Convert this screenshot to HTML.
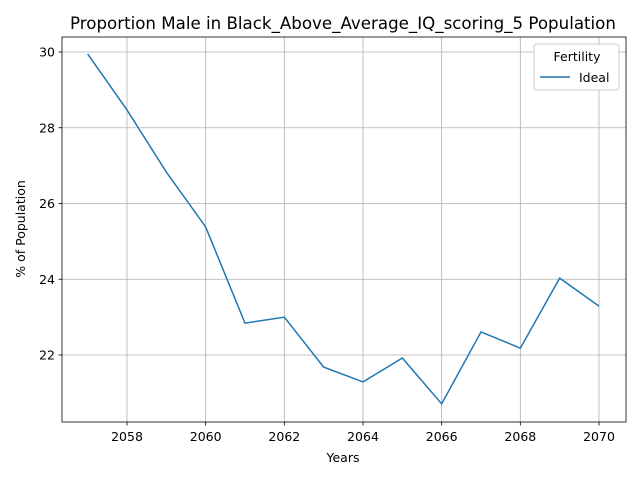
<!DOCTYPE html>
<html><head><meta charset="utf-8"><style>
body{margin:0;background:#fff;}
svg text{font-family:"DejaVu Sans","Liberation Sans",sans-serif;fill:#000;}
</style></head><body>
<svg id="chart" width="640" height="480" viewBox="0 0 640 480">
<rect width="640" height="480" fill="#fff"/>
<g id="grid"></g>
<g id="ticks"></g>
<path id="line" fill="none" stroke="#1f77b4" stroke-width="1.5"/>
<rect x="62" y="37" width="564" height="385" fill="none" stroke="#000" stroke-width="0.8"/>
<text x="343" y="29" font-size="16.67" text-anchor="middle">Proportion Male in Black_Above_Average_IQ_scoring_5 Population</text>
<text x="343" y="462" font-size="12.5" text-anchor="middle">Years</text>
<text transform="translate(25,229) rotate(-90)" font-size="12.5" text-anchor="middle">% of Population</text>
<g>
<rect x="534" y="44" width="85" height="46" rx="3" fill="#fff" stroke="#ccc" stroke-width="1"/>
<text x="577" y="61" font-size="12.5" text-anchor="middle">Fertility</text>
<line x1="540" y1="77" x2="570" y2="77" stroke="#1f77b4" stroke-width="1.5"/>
<text x="579" y="82" font-size="12.5">Ideal</text>
</g>
</svg>
<script>
const years=[2057,2058,2059,2060,2061,2062,2063,2064,2065,2066,2067,2068,2069,2070];
const values=[29.95,28.47,26.83,25.38,22.84,23.0,21.68,21.29,21.92,20.71,22.61,22.18,24.03,23.29];
const xTicks=[2058,2060,2062,2064,2066,2068,2070];
const yTicks=[22,24,26,28,30];
function xs(v){return 127+(v-2058)*(599-127)/12;}
function ys(v){return 355-(v-22)*(355-52)/8;}
const NS="http://www.w3.org/2000/svg";
const grid=document.getElementById('grid'),ticks=document.getElementById('ticks');
function mk(tag,attrs,parent){const e=document.createElementNS(NS,tag);for(const k in attrs)e.setAttribute(k,attrs[k]);parent.appendChild(e);return e;}
xTicks.forEach(t=>{const x=xs(t);
const g=mk('line',{x1:x,x2:x,y1:37,y2:422,stroke:'#b0b0b0','stroke-width':0.8},grid);


mk('line',{x1:x,x2:x,y1:422,y2:425.5,stroke:'#000','stroke-width':0.8},ticks);
const tx=mk('text',{x:x,y:441,'font-size':12.5,'text-anchor':'middle'},ticks);tx.textContent=t;

});
yTicks.forEach(t=>{const y=ys(t);
const g=mk('line',{x1:62,x2:626,y1:y,y2:y,stroke:'#b0b0b0','stroke-width':0.8},grid);


mk('line',{x1:58.5,x2:62,y1:y,y2:y,stroke:'#000','stroke-width':0.8},ticks);
const tx=mk('text',{x:55,y:y+4.5,'font-size':12.5,'text-anchor':'end'},ticks);tx.textContent=t;

});
document.getElementById('line').setAttribute('d',years.map((y,i)=>(i?'L':'M')+xs(y)+','+ys(values[i])).join(' '));
</script>
</body></html>
